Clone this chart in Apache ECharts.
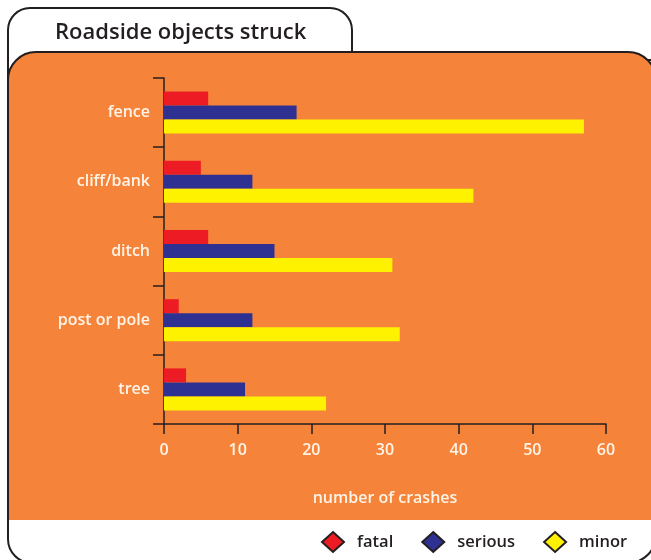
<!DOCTYPE html>
<html>
<head>
<meta charset="utf-8">
<script src="https://cdn.jsdelivr.net/npm/echarts@6/dist/echarts.min.js"></script>
<style>
html,body{margin:0;padding:0;background:#fff;}
#main{width:651px;height:560px;}
</style>
</head>
<body>
<div id="main"></div>
<script>
const categories = ['fence', 'cliff/bank', 'ditch', 'post or pole', 'tree'];
const fatal = [6, 5, 6, 2, 3];
const serious = [18, 12, 15, 12, 11];
const minor = [57, 42, 31, 32, 22];
const xTicks = [0, 10, 20, 30, 40, 50, 60];
const seriesNames = ['fatal', 'serious', 'minor'];

const ORANGE = '#F5843A';
const DARK = '#231F20';
const LABEL = '#FFF4E8';
const FONT = '"Open Sans", "Noto Sans", sans-serif';

const chart = echarts.init(document.getElementById('main'), null, {renderer: 'canvas'});
const option = {
  backgroundColor: '#fff',
  animation: false,
  textStyle: {fontFamily: FONT},
  graphic: [
    {type: 'rect', z: -10, shape: {x: 8, y: 60, width: 648, height: 503, r: [0, 0, 28, 24]},
     style: {fill: '#fff', stroke: DARK, lineWidth: 2}},
    {type: 'rect', z: -9, shape: {x: 8, y: 8, width: 344, height: 70, r: [22, 22, 0, 0]},
     style: {fill: '#fff', stroke: DARK, lineWidth: 2}},
    {type: 'rect', z: -8, shape: {x: 8, y: 52, width: 648, height: 467, r: [28, 28, 0, 0]},
     style: {fill: ORANGE, stroke: DARK, lineWidth: 2}},
    {type: 'rect', z: -7, shape: {x: 9, y: 500, width: 646, height: 20},
     style: {fill: ORANGE}},
    {type: 'text', z: 5, left: 55, top: 22,
     style: {text: 'Roadside objects struck', fill: DARK, font: '600 22px ' + FONT}}
  ],
  legend: {
    top: 526,
    left: 316,
    icon: 'diamond',
    itemWidth: 22,
    itemHeight: 20,
    itemGap: 28,
    data: seriesNames,
    itemStyle: {borderColor: DARK, borderWidth: 2},
    textStyle: {color: DARK, fontSize: 16.5, fontWeight: 600, fontFamily: FONT, padding: [0, 0, 0, 8]}
  },
  grid: {left: 164, right: 45, top: 78, bottom: 136, containLabel: false},
  xAxis: {
    type: 'value',
    min: 0, max: 60, interval: 10,
    name: 'number of crashes',
    nameLocation: 'middle',
    nameGap: 66,
    nameTextStyle: {color: LABEL, fontSize: 16, fontWeight: 600, fontFamily: FONT},
    axisLine: {show: true, lineStyle: {color: DARK, width: 1.5}},
    axisTick: {show: true, length: 10, lineStyle: {color: DARK, width: 1.5}},
    axisLabel: {color: LABEL, fontSize: 16, fontWeight: 600, margin: 18, fontFamily: FONT,
      formatter: v => xTicks.includes(v) ? String(v) : ''},
    splitLine: {show: false}
  },
  yAxis: {
    type: 'category',
    data: categories,
    inverse: true,
    axisLine: {show: true, lineStyle: {color: DARK, width: 1.5}},
    axisTick: {show: true, length: 11, lineStyle: {color: DARK, width: 1.5}},
    axisLabel: {color: LABEL, fontSize: 16, fontWeight: 600, margin: 14, fontFamily: FONT}
  },
  series: [
    {name: 'fatal', type: 'bar', data: fatal, barWidth: 14, barGap: '0%', itemStyle: {color: '#ED1C24'}},
    {name: 'serious', type: 'bar', data: serious, barWidth: 14, barGap: '0%', itemStyle: {color: '#2E3192'}},
    {name: 'minor', type: 'bar', data: minor, barWidth: 14, barGap: '0%', itemStyle: {color: '#FFF200'}}
  ]
};
chart.setOption(option);
</script>
</body>
</html>
